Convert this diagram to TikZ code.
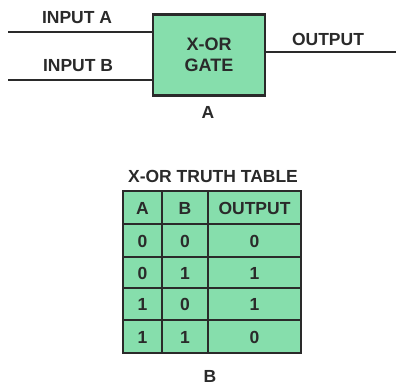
\documentclass[tikz,border=0pt]{standalone}
\usepackage{fontspec}
\setmainfont{Liberation Sans}
\definecolor{gatefill}{HTML}{86DEAC}
\definecolor{ink}{HTML}{2A2A2A}
\begin{document}
\begin{tikzpicture}[x=1pt,y=-1pt,
  lbl/.style={font=\bfseries\fontsize{17.5}{20}\selectfont, text=ink, inner sep=0pt},
  cell/.style={font=\bfseries\fontsize{17.5}{20}\selectfont, text=ink, inner sep=0pt},
  wire/.style={draw=ink, line width=1.4pt},
  thick border/.style={draw=ink, line width=2.4pt},
  thin border/.style={draw=ink, line width=1.6pt}]
\useasboundingbox (0,0) rectangle (396,386);
% Part A
\node[thick border, fill=gatefill, minimum width=112, minimum height=81, inner sep=0pt,
      align=center, font=\bfseries\fontsize{18}{21}\selectfont, text=ink] (gate) at (209,55) {X-OR\\GATE};
\coordinate (ina) at (8,32);
\coordinate (inb) at (8,80);
\coordinate (out) at (396,52);
\draw[wire] (ina) -- (ina -| gate.west);
\draw[wire] (inb) -- (inb -| gate.west);
\draw[wire] (out -| gate.east) -- (out);
\node[lbl] (lblA) at (77,17.5) {INPUT A};
\node[lbl] (lblB) at (78,65.5) {INPUT B};
\node[lbl] (lblO) at (328,39.5) {OUTPUT};
\node[lbl] (capA) at (208,112) {A};
% Part B
\node[lbl] (title) at (213,176) {X-OR TRUTH TABLE};
\fill[gatefill] (123,191) rectangle (301,353);
\foreach \y in {224,257,288,320} \draw[thin border] (123,\y) -- (301,\y);
\draw[thick border] (123,224) -- (301,224);
\draw[thin border] (162,191) -- (162,353);
\draw[thin border] (208,191) -- (208,353);
\node[thick border, minimum width=178, minimum height=162, inner sep=0pt] (table) at (212,272) {};
\node[cell] (hA) at (142.5,208) {A};
\node[cell] (hB) at (185,208) {B};
\node[cell] (hO) at (254.5,208) {OUTPUT};
\node[cell] (a1) at (142.5,241) {0};
\node[cell] (b1) at (185,241) {0};
\node[cell] (o1) at (254.5,241) {0};
\node[cell] (a2) at (142.5,273) {0};
\node[cell] (b2) at (185,273) {1};
\node[cell] (o2) at (254.5,273) {1};
\node[cell] (a3) at (142.5,304) {1};
\node[cell] (b3) at (185,304) {0};
\node[cell] (o3) at (254.5,304) {1};
\node[cell] (a4) at (142.5,337) {1};
\node[cell] (b4) at (185,337) {1};
\node[cell] (o4) at (254.5,337) {0};
\node[lbl] (capB) at (210,376) {B};
\end{tikzpicture}
\end{document}
